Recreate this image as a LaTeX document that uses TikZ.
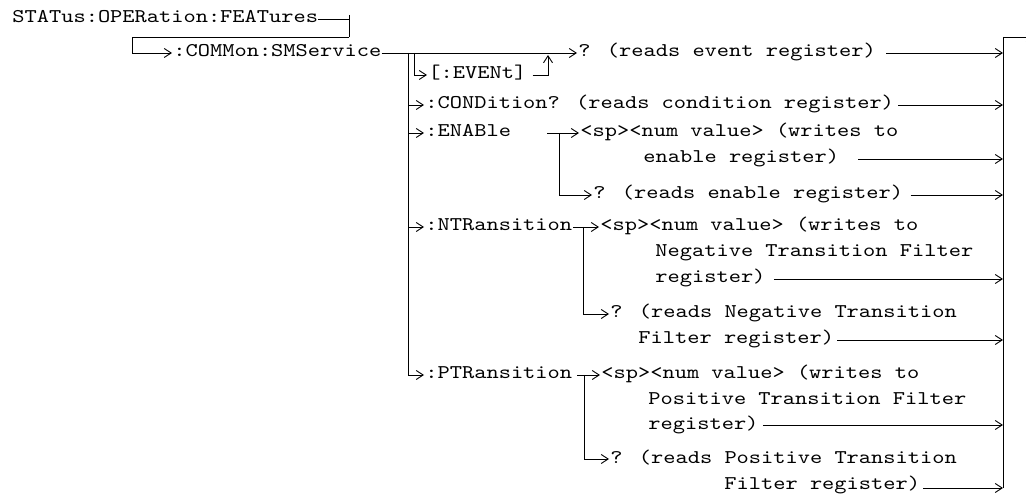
\documentclass[tikz,border=0pt]{standalone}
\usepackage{fontspec}
\newfontfamily\cmdfont{lmmono10-regular.otf}[FakeStretch=1.2]
\usetikzlibrary{arrows.meta}
\begin{document}
\begin{tikzpicture}[x=1pt,y=-1pt,line width=0.9pt,
  lbl/.style={font=\cmdfont\fontsize{19.4pt}{24pt}\selectfont, anchor=base west, inner sep=0pt, text height=11pt, text depth=3pt},
  tip/.style={-{Straight Barb[length=7pt,width=9pt]}},
]
\useasboundingbox (0,0) rectangle (1026,494);

% text nodes
\node[lbl] (stat) at (12,23) {STATus:OPERation:FEATures};
\node[lbl] (sms) at (173,57) {:COMMon:SMService};
\node[lbl] (evq) at (578,57) {? (reads event register)};
\node[lbl] (ev) at (428,79) {[:EVENt]};
\node[lbl] (cond) at (425,109) {:CONDition? (reads condition register)};
\node[lbl] (ena) at (425,137) {:ENABle};
\node[lbl] (enaw) at (580,137) {<sp><num value> (writes to};
\node[lbl] (enaw2) at (643,163) {enable register)};
\node[lbl] (enaq) at (593,199) {? (reads enable register)};
\node[lbl] (ntr) at (425,231) {:NTRansition};
\node[lbl] (ntrw) at (600,231) {<sp><num value> (writes to};
\node[lbl] (ntrw2) at (655,257) {Negative Transition Filter};
\node[lbl] (ntrw3) at (655,283) {register)};
\node[lbl] (ntrq) at (610,318) {? (reads Negative Transition};
\node[lbl] (ntrq2) at (638,344) {Filter register)};
\node[lbl] (ptr) at (425,379) {:PTRansition};
\node[lbl] (ptrw) at (601,379) {<sp><num value> (writes to};
\node[lbl] (ptrw2) at (648,405) {Positive Transition Filter};
\node[lbl] (ptrw3) at (648,429) {register)};
\node[lbl] (ptrq) at (610,463) {? (reads Positive Transition};
\node[lbl] (ptrq2) at (724,489) {Filter register)};

% junction coordinates
\coordinate (j0) at (349,19);
\coordinate (j0t) at (349,15);
\coordinate (j0b) at (349,37);
\coordinate (c0) at (132,37);
\coordinate (bar1) at (408,53);
\coordinate (bar2) at (414,53);
\coordinate (up) at (548,53);
\coordinate (rtop) at (1003,37);
\coordinate (rbot) at (1003,488);
\coordinate (rout) at (1034,37);
\coordinate (enj) at (559,133);
\coordinate (ntj) at (583,227);
\coordinate (ptj) at (584,375);

% top part
\draw (stat.east) -- (stat.east -| j0);
\draw (j0t) -- (j0b);
\draw[tip] (j0b) -- (c0) |- ([xshift=-1pt]sms.west);
\draw[tip] (sms.east) -- ([xshift=-1pt]evq.west);

% main bar
\draw[tip] (bar1) |- ([xshift=-1pt]ptr.west);
\draw[tip] (bar2) |- ([xshift=-1pt]ev.west);
\draw[tip] ([xshift=6pt]ev.east) -| ([yshift=-2pt]up);
\draw[tip] (cond.west -| bar1) -- ([xshift=-1pt]cond.west);
\draw[tip] (ena.west -| bar1) -- ([xshift=-1pt]ena.west);
\draw[tip] (ntr.west -| bar1) -- ([xshift=-1pt]ntr.west);

% enable branch
\draw[tip] ([xshift=-12pt]enj) -- ([xshift=-1pt]enaw.west);
\draw[tip] (enj) |- ([xshift=-1pt]enaq.west);

% NTR branch
\draw[tip] ([xshift=-10pt]ntj) -- ([xshift=-1pt]ntrw.west);
\draw[tip] (ntj) |- ([xshift=-1pt]ntrq.west);

% PTR branch
\draw[tip] ([xshift=-7pt]ptj) -- ([xshift=-1pt]ptrw.west);
\draw[tip] (ptj) |- ([xshift=-1pt]ptrq.west);

% right bar
\draw (rtop) -- (rbot);
\draw[tip] (rtop) -- (rout);

% outputs to right bar
\draw[tip] ([xshift=10pt]evq.east) -- (evq.east -| rtop);
\draw[tip] ([xshift=4pt]cond.east) -- (cond.east -| rtop);
\draw[tip] ([xshift=19pt]enaw2.east) -- (enaw2.east -| rtop);
\draw[tip] ([xshift=7pt]enaq.east) -- (enaq.east -| rtop);
\draw[tip] ([xshift=8pt]ntrw3.east) -- (ntrw3.east -| rtop);
\draw[tip] ([xshift=3pt]ntrq2.east) -- (ntrq2.east -| rtop);
\draw[tip] ([xshift=4pt]ptrw3.east) -- (ptrw3.east -| rtop);
\draw[tip] ([xshift=3pt,yshift=-3pt]ptrq2.east) -- (rbot);
\end{tikzpicture}
\end{document}
